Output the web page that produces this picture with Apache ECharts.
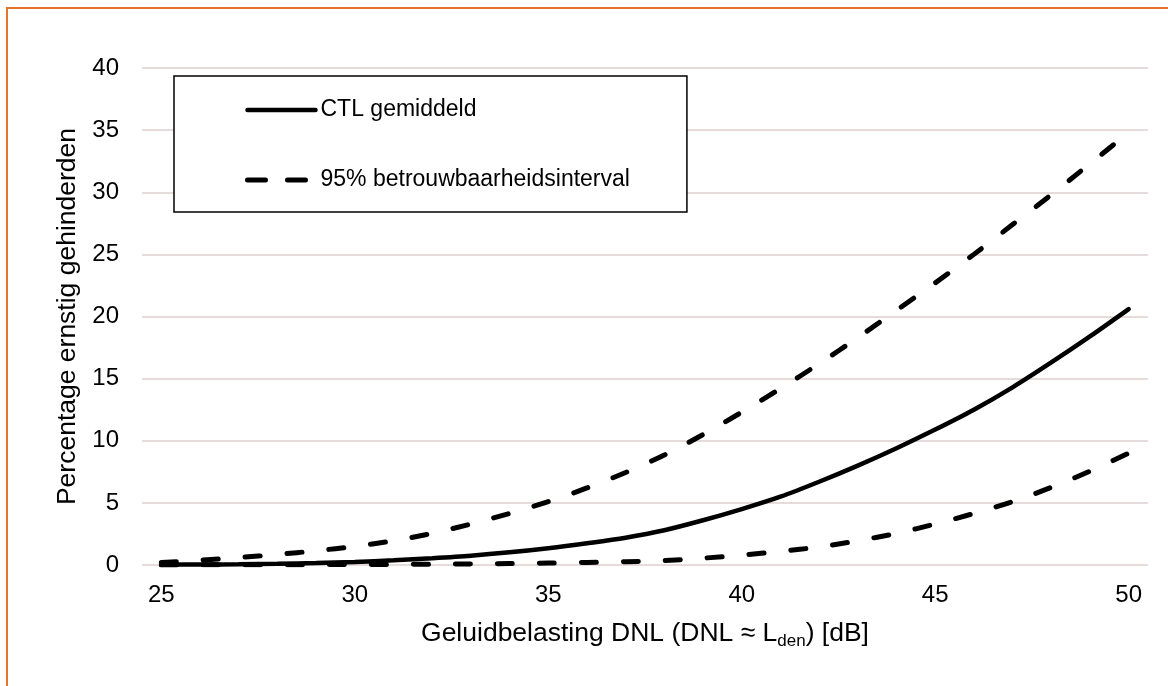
<!DOCTYPE html>
<html>
<head>
<meta charset="utf-8">
<script src="https://cdn.jsdelivr.net/npm/echarts@6/dist/echarts.min.js"></script>
<style>
html,body{margin:0;padding:0;background:#fff;}
#chart{width:1168px;height:686px;}
</style>
</head>
<body>
<div id="chart"></div>
<script>
const categories = ['25','26','27','28','29','30','31','32','33','34','35','36','37','38','39','40','41','42','43','44','45','46','47','48','49','50'];
const meanValues = [0.02,0.04,0.06,0.1,0.16,0.25,0.38,0.55,0.75,1.02,1.35,1.75,2.2,2.8,3.6,4.5,5.5,6.7,8.0,9.4,10.9,12.5,14.3,16.3,18.4,20.6];
const upperValues = [0.2,0.38,0.6,0.85,1.15,1.5,1.95,2.55,3.3,4.15,5.1,6.2,7.45,8.85,10.5,12.3,14.2,16.2,18.3,20.5,22.7,25.0,27.4,29.8,32.3,34.8];
const lowerValues = [0.01,0.01,0.02,0.02,0.03,0.04,0.05,0.07,0.09,0.12,0.16,0.21,0.27,0.35,0.55,0.8,1.1,1.45,1.95,2.55,3.3,4.15,5.1,6.25,7.55,9.0];
const meanName = 'CTL gemiddeld';
const ciName = '95% betrouwbaarheidsinterval';
const xTitle = '{a|Geluidbelasting DNL (DNL ≈ L}{s|den}{a|) [dB]}';
const yTitle = 'Percentage ernstig gehinderden';

const FONT = "'Liberation Sans', Arial, sans-serif";
const chart = echarts.init(document.getElementById('chart'), null, {renderer: 'canvas'});

const solidStyle = {color: '#000', width: 4.5, type: 'solid', cap: 'round'};
const dashedStyle = {color: '#000', width: 5, type: [15, 27], cap: 'round'};

chart.setOption({
  animation: false,
  backgroundColor: '#fff',
  textStyle: {fontFamily: FONT, color: '#000'},
  graphic: [{
    type: 'rect',
    shape: {x: 7, y: 8, width: 1200, height: 720},
    style: {fill: 'none', stroke: '#e8732a', lineWidth: 2},
    silent: true
  }],
  grid: {left: 142, right: 20, top: 68, bottom: 121},
  legend: {
    left: 174, top: 76,
    orient: 'vertical',
    data: [
      {name: meanName, lineStyle: solidStyle, itemStyle: {opacity: 0}},
      {name: ciName, lineStyle: {color: '#000', width: 5, type: [18, 22], cap: 'round'}, itemStyle: {opacity: 0}}
    ],
    itemWidth: 68, itemHeight: 24, itemGap: 46,
    itemStyle: {opacity: 0},
    padding: [22, 57, 20, 71],
    backgroundColor: '#fff',
    borderColor: '#000', borderWidth: 1.5, borderRadius: 0,
    textStyle: {fontSize: 23, color: '#000', fontFamily: FONT, lineHeight: 24},
    selectedMode: false
  },
  xAxis: {
    type: 'category',
    data: categories,
    boundaryGap: true,
    axisLine: {show: false},
    axisTick: {show: false},
    axisLabel: {
      fontSize: 24, color: '#000', fontFamily: FONT, margin: 18,
      interval: function (idx) { return idx % 5 === 0; }
    },
    splitLine: {show: false},
    name: xTitle,
    nameLocation: 'middle',
    nameGap: 53,
    nameTextStyle: {
      rich: {
        a: {fontSize: 26.5, fontFamily: FONT, color: '#000'},
        s: {fontSize: 17, fontFamily: FONT, color: '#000', verticalAlign: 'bottom', padding: [15, 0, 0, 0]}
      }
    }
  },
  yAxis: {
    type: 'value',
    min: 0, max: 40, interval: 5,
    axisLine: {show: false},
    axisTick: {show: false},
    axisLabel: {fontSize: 24, color: '#000', fontFamily: FONT, margin: 23},
    splitLine: {show: true, lineStyle: {color: '#dccfcf', width: 1.5}},
    name: yTitle,
    nameLocation: 'middle',
    nameGap: 61,
    nameRotate: 90,
    nameTextStyle: {fontSize: 26.5, color: '#000', fontFamily: FONT}
  },
  series: [
    {
      name: meanName, type: 'line', data: meanValues,
      symbol: 'none', smooth: 0.3,
      lineStyle: solidStyle,
      itemStyle: {color: '#000'}, z: 3
    },
    {
      name: ciName, type: 'line', data: upperValues,
      symbol: 'none', smooth: 0.3,
      lineStyle: dashedStyle, itemStyle: {color: '#000'}, z: 2
    },
    {
      name: ciName, type: 'line', data: lowerValues,
      symbol: 'none', smooth: 0.3,
      lineStyle: dashedStyle, itemStyle: {color: '#000'}, z: 2
    }
  ]
});
</script>
</body>
</html>
